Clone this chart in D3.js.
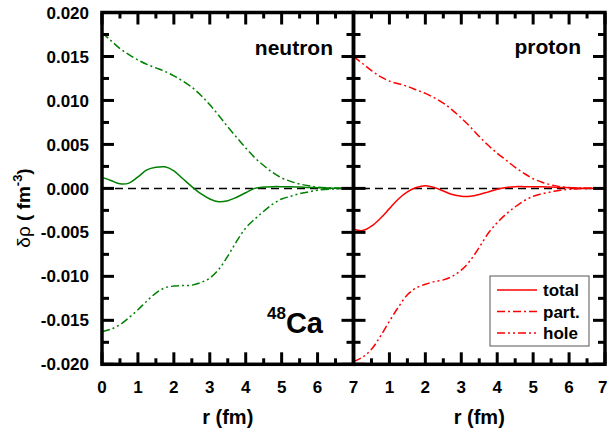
<!DOCTYPE html>
<html><head><meta charset="utf-8">
<script src="https://cdn.jsdelivr.net/npm/d3@7"></script>
<style>body{margin:0;background:#fff;}svg{display:block;font-family:"Liberation Sans",Arial,Helvetica,sans-serif;}</style>
</head><body><svg id="c" width="608" height="435"></svg>
<script>
const rGrid = [0,0.25,0.5,0.75,1,1.25,1.5,1.75,2,2.25,2.5,2.75,3,3.25,3.5,3.75,4,4.25,4.5,4.75,5,5.25,5.5,5.75,6,6.5,7];
const neutronTotal = [0.00125,0.0009,0.00052,0.0006,0.0013,0.0021,0.0024,0.00245,0.0020,0.0011,0.0002,-0.0006,-0.0012,-0.00152,-0.0014,-0.0010,-0.0005,0.0,0.00015,0.0002,0.0002,0.00018,0.00015,0.0001,0.00008,0.00002,0];
const neutronPart = [0.0177,0.0168,0.0159,0.0152,0.0146,0.0141,0.0137,0.0133,0.0128,0.0122,0.0115,0.0106,0.0095,0.0083,0.0070,0.0058,0.0046,0.0035,0.0026,0.0018,0.0012,0.0008,0.0005,0.0003,0.00015,0.00004,0];
const neutronHole = [-0.0163,-0.0160,-0.0155,-0.0147,-0.0138,-0.0128,-0.0119,-0.0113,-0.0111,-0.01105,-0.0110,-0.0107,-0.0102,-0.0092,-0.0077,-0.0060,-0.0045,-0.0035,-0.0026,-0.0018,-0.0012,-0.0009,-0.0006,-0.0004,-0.0002,-0.00005,0];
const protonTotal = [-0.00465,-0.0048,-0.0043,-0.0034,-0.0023,-0.0012,-0.0004,0.0001,0.0003,0.0001,-0.0003,-0.0007,-0.0009,-0.0009,-0.0007,-0.0004,-0.0001,0.0001,0.0002,0.0002,0.0002,0.00018,0.00015,0.0001,0.00008,0.00002,0];
const protonPart = [0.0150,0.0142,0.0134,0.0127,0.0122,0.0119,0.0116,0.0112,0.0108,0.0103,0.0097,0.0089,0.0080,0.0070,0.0059,0.0049,0.0040,0.0032,0.0024,0.0017,0.0011,0.0007,0.0004,0.0002,0.0001,0.00003,0];
const protonHole = [-0.0197,-0.0192,-0.0183,-0.0168,-0.0151,-0.0135,-0.0121,-0.0113,-0.0109,-0.0106,-0.0104,-0.0100,-0.0093,-0.0082,-0.0067,-0.0051,-0.0039,-0.0029,-0.0021,-0.0014,-0.0009,-0.0006,-0.0004,-0.0002,-0.0001,-0.00003,0];
const yTicks = [0.020,0.015,0.010,0.005,0.000,-0.005,-0.010,-0.015,-0.020];
const xTicksLeft = [0,1,2,3,4,5,6,7];
const xTicksRight = [1,2,3,4,5,6,7];
const legendLabels = ["total","part.","hole"];

const svg = d3.select("#c");
const yTop = 12.5, yBot = 364.3;
const y = d3.scaleLinear().domain([-0.02,0.02]).range([yBot, yTop]);
const xL = d3.scaleLinear().domain([0,7]).range([102,353.5]);
const xR = d3.scaleLinear().domain([0,7]).range([353.5,605]);

const dashes = {total:null, part:"8,3,2,3", hole:"8,3,2,3,2,3"};

function drawPanel(x, total, part, hole, color){
  const line = d3.line().x((d,i)=>x(rGrid[i])).y(d=>y(d)).curve(d3.curveCatmullRom.alpha(0.5));
  [[part,dashes.part],[hole,dashes.hole],[total,null]].forEach(([data,da])=>{
    svg.append("path").attr("d",line(data)).attr("fill","none")
      .attr("stroke",color).attr("stroke-width",1.5)
      .attr("stroke-dasharray",da);
  });
}

// zero line
svg.append("line").attr("x1",xL(0)).attr("x2",xR(7)).attr("y1",y(0)).attr("y2",y(0))
  .attr("stroke","#000").attr("stroke-width",1.5).attr("stroke-dasharray","8,5");

drawPanel(xL, neutronTotal, neutronPart, neutronHole, "#008000");
drawPanel(xR, protonTotal, protonPart, protonHole, "#ff0000");

// ticks
const tk = svg.append("g").attr("stroke","#000").attr("stroke-width",3);
const yMinor = d3.range(-0.02,0.0201,0.0025);
yMinor.forEach(v=>{
  const major = Math.abs(Math.round(v/0.005)*0.005 - v) < 1e-9;
  const L = major ? 12 : 7;
  tk.append("line").attr("x1",xL(0)).attr("x2",xL(0)+L).attr("y1",y(v)).attr("y2",y(v));
  tk.append("line").attr("x1",xL(7)-L).attr("x2",xL(7)+L).attr("y1",y(v)).attr("y2",y(v));
  tk.append("line").attr("x1",xR(7)-L).attr("x2",xR(7)).attr("y1",y(v)).attr("y2",y(v));
});
d3.range(0,7.01,0.5).forEach(r=>{
  const major = Math.abs(r-Math.round(r))<1e-9;
  const L = major ? 12 : 6;
  [xL,xR].forEach(x=>{
    tk.append("line").attr("x1",x(r)).attr("x2",x(r)).attr("y1",yBot).attr("y2",yBot-L);
    tk.append("line").attr("x1",x(r)).attr("x2",x(r)).attr("y1",yTop).attr("y2",yTop+L);
  });
});
// frames
[xL,xR].forEach(x=>{
  svg.append("rect").attr("x",x(0)).attr("y",yTop).attr("width",x(7)-x(0)).attr("height",yBot-yTop)
    .attr("fill","none").attr("stroke","#000").attr("stroke-width",3.5);
});

// tick labels
svg.append("g").selectAll("text").data(yTicks).join("text")
  .attr("x",89).attr("y",d=>y(d)).attr("dy","0.36em").attr("text-anchor","end")
  .attr("font-size",17).attr("font-weight","bold").text(d=>d.toFixed(3));
svg.append("g").selectAll("text").data(xTicksLeft).join("text")
  .attr("x",d=>xL(d)).attr("y",393).attr("text-anchor","middle")
  .attr("font-size",17).attr("font-weight","bold").text(d=>d);
svg.append("g").selectAll("text").data(xTicksRight).join("text")
  .attr("x",d=>d===7 ? 607.5 : xR(d)).attr("y",393)
  .attr("text-anchor",d=>d===7 ? "end" : "middle")
  .attr("font-size",17).attr("font-weight","bold").text(d=>d);

// axis titles
[xL,xR].forEach(x=>{
  svg.append("text").attr("x",(x(0)+x(7))/2).attr("y",424).attr("text-anchor","middle")
    .attr("font-size",20).attr("font-weight","bold").text("r (fm)");
});
const yl = svg.append("text").attr("transform","translate(30,208) rotate(-90)")
  .attr("text-anchor","middle").attr("font-size",19);
yl.append("tspan").text("δρ");
yl.append("tspan").attr("font-weight","bold").text(" ( fm");
yl.append("tspan").attr("font-weight","bold").attr("font-size",13).attr("dy",-8).text("-3");
yl.append("tspan").attr("font-weight","bold").attr("dy",8).text(")");

// panel labels
svg.append("text").attr("x",333).attr("y",55).attr("text-anchor","end")
  .attr("font-size",21).attr("font-weight","bold").text("neutron");
svg.append("text").attr("x",581).attr("y",54).attr("text-anchor","end")
  .attr("font-size",21).attr("font-weight","bold").text("proton");
const ca = svg.append("text").attr("x",267).attr("y",333).attr("font-weight","bold");
ca.append("tspan").attr("font-size",17).attr("dy",-14).text("48");
ca.append("tspan").attr("font-size",29).attr("dy",14).text("Ca");

// legend
const lg = svg.append("g");
lg.append("rect").attr("x",490).attr("y",276).attr("width",99).attr("height",70)
  .attr("fill","#fff").attr("stroke","#555").attr("stroke-width",1);
legendLabels.forEach((t,i)=>{
  const yy = 290 + i*21.5;
  lg.append("line").attr("x1",497).attr("x2",537).attr("y1",yy).attr("y2",yy)
    .attr("stroke","#ff0000").attr("stroke-width",1.5)
    .attr("stroke-dasharray",[null,dashes.part,dashes.hole][i]);
  lg.append("text").attr("x",543).attr("y",yy).attr("dy","0.36em")
    .attr("font-size",17).attr("font-weight","bold").text(t);
});
</script></body></html>
